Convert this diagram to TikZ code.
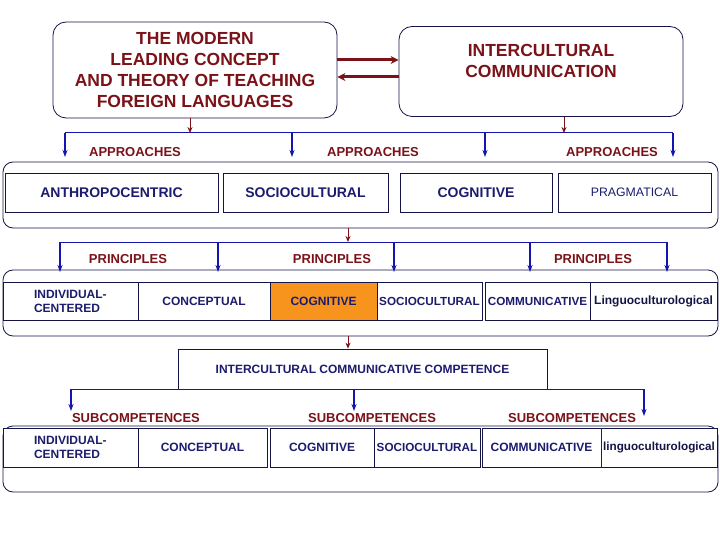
\documentclass[tikz,border=0pt]{standalone}
\usepackage{fontspec}
\setmainfont{Liberation Sans}
\usetikzlibrary{arrows.meta}
\definecolor{dred}{RGB}{122,18,24}
\definecolor{navy}{RGB}{28,28,110}
\definecolor{lblue}{RGB}{20,20,175}
\definecolor{bord}{RGB}{20,20,70}
\definecolor{org}{RGB}{247,148,30}
\begin{document}
\begin{tikzpicture}[x=1pt,y=-1pt,
  hbox/.style={draw=bord, line width=0.8pt, rounded corners=13pt, inner sep=0pt, align=center,
    font=\bfseries\fontsize{17.5}{21.3}\selectfont, text=dred},
  cont/.style={draw=bord, line width=0.8pt, rounded corners=10pt, inner sep=0pt},
  cell/.style={draw=bord, line width=0.8pt, inner sep=0pt, align=center, fill=white,
    font=\bfseries\fontsize{12}{14}\selectfont, text=navy},
  bigcell/.style={cell, font=\bfseries\fontsize{14}{16}\selectfont},
  lab/.style={font=\bfseries\fontsize{13}{15}\selectfont, text=dred, inner sep=0pt},
  rarr/.style={dred, line width=1pt, -{Stealth[length=6pt,width=5pt]}},
  dbl/.style={dred, line width=3pt, -{Stealth[length=8pt,width=8pt]}},
  bline/.style={lblue, line width=1pt},
  barr/.style={lblue, line width=1.2pt, -{Stealth[length=7pt,width=5pt]}}]
\useasboundingbox (0,0) rectangle (720,540);

% top boxes
\node[hbox, minimum width=284pt, minimum height=96pt] (tl) at (195,70)
  {THE MODERN\\LEADING CONCEPT\\AND THEORY OF TEACHING\\FOREIGN LANGUAGES};
\node[hbox, minimum width=284pt, minimum height=90pt] (tr) at (541,71.5)
  {INTERCULTURAL\\COMMUNICATION\\\mbox{}};
\coordinate (y60) at (0,60);
\coordinate (y77) at (0,77);
\draw[dbl] (tl.east |- y60) -- (tr.west |- y60);
\draw[dbl] (tr.west |- y77) -- (tl.east |- y77);

% approaches bus
\coordinate (b1L) at (65,133);
\coordinate (b1R) at (673,133);
\coordinate (b1m) at (190,133);
\coordinate (b1n) at (564,133);
\coordinate (a1) at (65,157);
\coordinate (a2) at (292,157);
\coordinate (a3) at (485,157);
\coordinate (a4) at (673,157);
\draw[bline] (b1L) -- (b1R);
\draw[rarr] (tl.south -| b1m) -- (b1m);
\draw[rarr] (tr.south -| b1n) -- (b1n);
\draw[barr] (b1L) -- (a1);
\draw[barr] (a2 |- b1L) -- (a2);
\draw[barr] (a3 |- b1L) -- (a3);
\draw[barr] (b1R) -- (a4);
\node[lab] (ap1) at (135,152) {APPROACHES};
\node[lab] (ap2) at (373,152) {APPROACHES};
\node[lab] (ap3) at (612,152) {APPROACHES};

% approaches container
\node[cont, minimum width=715pt, minimum height=66pt] (apc) at (360.5,195) {};
\node[bigcell, minimum width=213pt, minimum height=39pt] (an) at (111.5,192.5) {ANTHROPOCENTRIC};
\node[bigcell, minimum width=165pt, minimum height=39pt] (so) at (305.5,192.5) {SOCIOCULTURAL};
\node[bigcell, minimum width=152pt, minimum height=39pt] (co) at (476,192.5) {COGNITIVE};
\node[cell, font=\fontsize{12.3}{14}\selectfont, minimum width=153pt, minimum height=39pt] (pr) at (634.5,192.5) {PRAGMATICAL};

% principles bus
\coordinate (p0) at (348,242);
\coordinate (p1L) at (60,242);
\coordinate (p1R) at (667,242);
\coordinate (q1) at (60,272);
\coordinate (q2) at (218,272);
\coordinate (q3) at (394,272);
\coordinate (q4) at (530,272);
\coordinate (q5) at (667,272);
\draw[rarr] (apc.south -| p0) -- (p0);
\draw[bline] (p1L) -- (p1R);
\draw[barr] (p1L) -- (q1);
\draw[barr] (q2 |- p1L) -- (q2);
\draw[barr] (q3 |- p1L) -- (q3);
\draw[barr] (q4 |- p1L) -- (q4);
\draw[barr] (p1R) -- (q5);
\node[lab] (pl1) at (128,259) {PRINCIPLES};
\node[lab] (pl2) at (332,259) {PRINCIPLES};
\node[lab] (pl3) at (593,259) {PRINCIPLES};

% principles container
\node[cont, minimum width=715pt, minimum height=66pt] (prc) at (360.5,303) {};
\node[cell, minimum width=135pt, minimum height=38pt, align=left, text width=73pt] (c1) at (70.5,301) {INDIVIDUAL-\\CENTERED};
\node[cell, minimum width=132pt, minimum height=38pt] (c2) at (204,301) {CONCEPTUAL};
\node[cell, fill=org, minimum width=107pt, minimum height=38pt] (c3) at (323.5,301) {COGNITIVE};
\node[cell, font=\bfseries\fontsize{11.7}{14}\selectfont, minimum width=105pt, minimum height=38pt] (c4) at (429.5,301) {SOCIOCULTURAL};
\node[cell, font=\bfseries\fontsize{11.7}{14}\selectfont, minimum width=105pt, minimum height=38pt] (c5) at (537.5,301) {COMMUNICATIVE};
\node[cell, minimum width=127pt, minimum height=38pt, text=bord] (c6) at (653.5,301) {Linguoculturological};

% ICC
\node[cell, minimum width=369pt, minimum height=40pt] (icc) at (362.5,369) {INTERCULTURAL COMMUNICATIVE COMPETENCE};
\draw[lblue, line width=1.6pt] (icc.south west) -- (icc.south east);
\draw[rarr] (prc.south -| p0) -- (icc.north -| p0);
\coordinate (k1) at (71,411);
\coordinate (k2) at (354,411);
\coordinate (k3) at (644,416);
\draw[barr] (icc.south west) -| (k1);
\draw[barr] (icc.south -| k2) -- (k2);
\draw[barr] (icc.south east) -| (k3);
\node[lab] (sl1) at (136,418) {SUBCOMPETENCES};
\node[lab] (sl2) at (372,418) {SUBCOMPETENCES};
\node[lab] (sl3) at (572,418) {SUBCOMPETENCES};

% subcompetences container
\node[cont, minimum width=715pt, minimum height=66pt] (sbc) at (360.5,459) {};
\node[cell, minimum width=135pt, minimum height=39pt, align=left, text width=73pt] (s1) at (70.5,447.5) {INDIVIDUAL-\\CENTERED};
\node[cell, minimum width=129pt, minimum height=39pt] (s2) at (202.5,447.5) {CONCEPTUAL};
\node[cell, minimum width=104pt, minimum height=39pt] (s3) at (322,447.5) {COGNITIVE};
\node[cell, font=\bfseries\fontsize{11.7}{14}\selectfont, minimum width=106pt, minimum height=39pt] (s4) at (427,447.5) {SOCIOCULTURAL};
\node[cell, minimum width=119pt, minimum height=39pt] (s5) at (541.5,447.5) {COMMUNICATIVE};
\node[cell, font=\bfseries\fontsize{11.7}{14}\selectfont, minimum width=116pt, minimum height=39pt, text=bord] (s6) at (659,447.5) {linguoculturological};
\draw[lblue, line width=1.6pt] (s5.north east) -- (s5.south east);
\end{tikzpicture}
\end{document}
